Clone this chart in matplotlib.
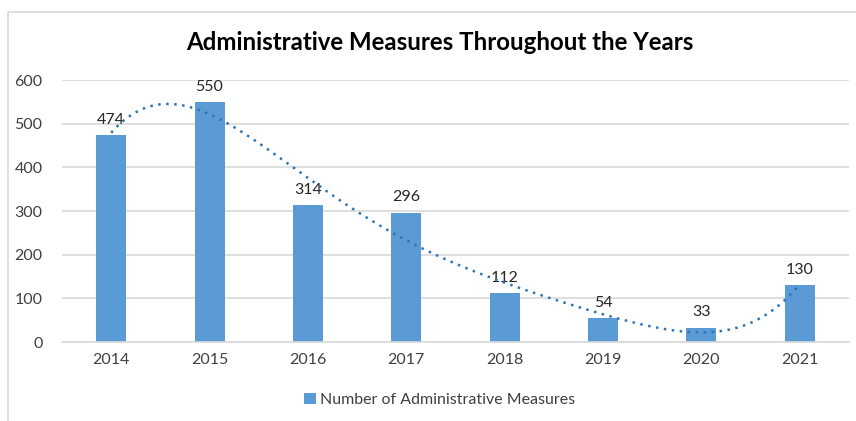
import matplotlib.pyplot as plt
import numpy as np

years = ['2014', '2015', '2016', '2017', '2018', '2019', '2020', '2021']
measures = [474, 550, 314, 296, 112, 54, 33, 130]

plt.rcParams['font.family'] = ['Lato', 'DejaVu Sans']

fig = plt.figure(figsize=(8.56, 4.21), dpi=100)
ax = fig.add_axes([62 / 856, 1 - 342 / 421, 787 / 856, 262 / 421])

x = np.arange(len(years))
bars = ax.bar(x, measures, width=0.305, color='#5B9BD5', zorder=2,
              label='Number of Administrative Measures')

for xi, v in zip(x, measures):
    ax.annotate(str(v), (xi, v), xytext=(0, 6), textcoords='offset points',
                ha='center', va='bottom', fontsize=11.5, color='#262626')

# polynomial trendline
coef = np.polyfit(x, measures, 5)
xs = np.linspace(0, len(years) - 1, 200)
ax.plot(xs, np.polyval(coef, xs), linestyle=(0, (1, 2.2)), color='#2E75B6',
        linewidth=1.8, zorder=3)

ax.set_xlim(-0.5, len(years) - 0.5)
ax.set_ylim(0, 600)
ax.set_yticks(range(0, 601, 100))
ax.set_xticks(x)
ax.set_xticklabels(years)
ax.yaxis.grid(True, color='#D9D9D9', linewidth=1.2, zorder=0)
ax.set_axisbelow(True)
for s in ['top', 'right', 'left']:
    ax.spines[s].set_visible(False)
ax.spines['bottom'].set_color('#D9D9D9')
ax.spines['bottom'].set_linewidth(1.2)
ax.tick_params(length=0, labelsize=11.5, colors='#404040', pad=8)
ax.tick_params(axis='y', pad=14)

fig.text(440 / 856, 1 - 43 / 421, 'Administrative Measures Throughout the Years',
         ha='center', va='center', fontsize=17.3, fontweight='bold', color='black')

fig.legend(handles=[bars], loc='center', bbox_to_anchor=(440 / 856, 1 - 400 / 421),
           frameon=False, fontsize=11.5, handlelength=0.7, handleheight=0.7,
           handletextpad=0.3, labelcolor='#404040')

# chart frame
frame = plt.Rectangle((8 / 856, -0.1), 1.2, 1 - 12 / 421 + 0.1, transform=fig.transFigure,
                      fill=False, edgecolor='#D9D9D9', linewidth=1.2)
fig.patches.append(frame)

fig.savefig('out.png', dpi=100, facecolor='white')
